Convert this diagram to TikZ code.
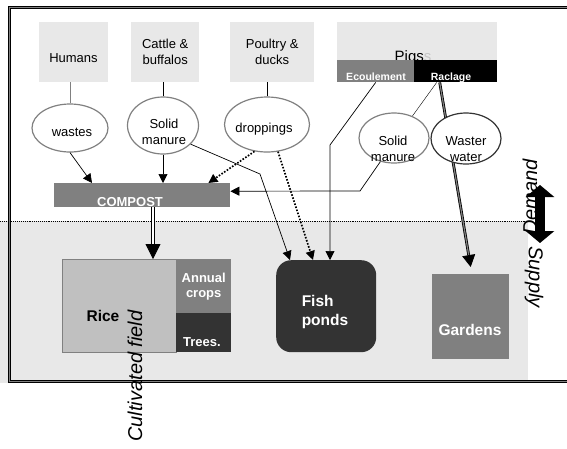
\documentclass[tikz,border=0pt]{standalone}
\usepackage{fontspec}
\setmainfont{Liberation Sans}
\usetikzlibrary{arrows.meta,calc,shapes.geometric}
\definecolor{lightbox}{HTML}{E8E8E8}
\definecolor{midbox}{HTML}{808080}
\definecolor{ricebox}{HTML}{C0C0C0}
\definecolor{darkbox}{HTML}{333333}
\newcommand{\fsmall}{\fontsize{10.5}{12}\selectfont}
\newcommand{\fnorm}{\fontsize{13}{16}\selectfont}
\newcommand{\fbig}{\fontsize{15.5}{19}\selectfont}
\newcommand{\fhuge}{\fontsize{20}{24}\selectfont}
\tikzset{
  srcbox/.style={fill=lightbox,inner sep=0pt,anchor=north west,font=\fnorm},
  heap/.style={ellipse,draw=midbox,line width=1.2pt,fill=white,inner sep=0pt},
  txt/.style={inner sep=0pt,font=\fnorm,align=center},
  wtxt/.style={inner sep=0pt,text=white,font=\bfseries\fnorm,align=center},
  arr/.style={-{Triangle[length=9pt,width=9pt]},line width=0.7pt},
  dots/.style={line width=1.7pt,dash pattern=on 1.6pt off 1.6pt},
}
\begin{document}
\begin{tikzpicture}[x=1pt,y=-1pt]
  \useasboundingbox (0,0) rectangle (567,448);
  % supply side
  \fill[lightbox] (0,221) rectangle (528,383);
  \draw[densely dotted,line width=0.9pt] (0,221) -- (526,221);
  \begin{scope}
    \clip (0,0) rectangle (567,448);
    \draw[line width=0.9pt,double=midbox,double distance=1.2pt] (9.5,7.5) rectangle (600,381.5);
  \end{scope}
  % sources
  \node[srcbox,minimum width=69pt,minimum height=60pt] (humans) at (39,22) {};
  \node[txt] (humans-t) at (73.5,58) {Humans};
  \node[srcbox,minimum width=68pt,minimum height=60pt,align=center] (cattle) at (131,22) {Cattle \&\\buffalos};
  \node[srcbox,minimum width=84pt,minimum height=60pt,align=center] (poultry) at (230,22) {Poultry \&\\ducks};
  \node[srcbox,minimum width=160pt,minimum height=38pt] (pigs) at (337,22) {};
  \node[txt,font=\fontsize{15}{18}\selectfont] (pigs-t) at (413,58) {Pigs{\color{gray!45}s}};
  \node[srcbox,fill=midbox,minimum width=77pt,minimum height=22pt] (ecoul) at (337,60) {};
  \node[srcbox,fill=black,minimum width=83pt,minimum height=22pt] (raclage) at (414,60) {};
  \node[wtxt,font=\bfseries\fsmall] (ecoul-t) at (376,77) {Ecoulement};
  \node[wtxt,font=\bfseries\fsmall] (raclage-t) at (451,78) {Raclage};
  % compost
  \node[srcbox,fill=midbox,minimum width=176pt,minimum height=24pt] (compost) at (54,183) {};
  \node[wtxt] (compost-t) at (130,202.5) {COMPOST};
  % receivers
  \node[srcbox,fill=ricebox,draw=midbox,line width=1pt,minimum width=114pt,minimum height=93pt] (rice) at (62,259) {};
  \node[srcbox,fill=midbox,minimum width=55pt,minimum height=54pt,text=white,align=center,
        font=\bfseries\fontsize{13}{15}\selectfont] (annual) at (176,259) {Annual\\crops};
  \node[srcbox,fill=darkbox,minimum width=55pt,minimum height=39pt] (trees) at (176,313) {};
  \node[txt,font=\bfseries\fbig] (rice-t) at (103,316) {Rice};
  \node[wtxt] (trees-t) at (202,342) {Trees.};
  \node[srcbox,fill=darkbox,rounded corners=15pt,minimum width=100pt,minimum height=92pt] (fish) at (276,260) {};
  \node[wtxt,font=\bfseries\fbig,align=left] (fish-t) at (325,312) {Fish\\ponds};
  \node[srcbox,fill=midbox,minimum width=77pt,minimum height=85pt] (gardens) at (432,274) {};
  \node[wtxt,font=\bfseries\fbig] (gardens-t) at (470,330) {Gardens};
  % main flows
  \draw[line width=0.8pt,double=midbox,double distance=1.2pt,-{Triangle[length=12pt,width=13pt]}]
    ([xshift=-16pt]raclage.south) -- ([yshift=7pt]gardens.north);
  \draw[line width=0.8pt,double=white,double distance=1.5pt,-{Triangle[length=15pt,width=15pt]}]
    ([xshift=99pt]compost.south west) -- ([xshift=91pt]rice.north west);
  % heaps
  \node[heap,minimum width=76pt,minimum height=48pt] (wastes) at (70,128) {};
  \node[txt] (wastes-t) at (72,132) {wastes};
  \node[heap,minimum width=71pt,minimum height=57pt] (smc) at (163,125.5) {};
  \node[txt] (smc-t) at (164,132) {Solid\\manure};
  \node[heap,minimum width=85pt,minimum height=55pt] (drop) at (267,124.5) {};
  \node[txt] (drop-t) at (264,129) {droppings};
  \node[heap,minimum width=70pt,minimum height=50pt] (smp) at (394,138) {};
  \node[txt] (smp-t) at (393,149) {Solid\\manure};
  \node[heap,draw=darkbox,minimum width=70pt,minimum height=51pt] (ww) at (466,138.5) {};
  \node[txt] (ww-t) at (466,149) {Waster\\water};
  \coordinate (bend1) at (360,191);
  \coordinate (bend2) at (260,174);
  \coordinate (bend3) at (330,145);
  \draw[midbox,line width=1pt] (wastes.north) -- (wastes.north |- humans.south);
  \draw (smc.north) -- (smc.north |- cattle.south);
  \draw (drop.north) -- (drop.north |- poultry.south);
  \draw[arr] (wastes.south) -- ([xshift=38pt]compost.north west);
  \draw[arr] (smc.south) -- (smc.south |- compost.north);
  \draw[arr,dots] (drop.245) -- ([xshift=-22pt]compost.north east);
  \draw[arr] (smp.240) -- (bend1) -- ([yshift=4pt]compost.east);
  \draw[arr] (smc.-34) -- (bend2) -- ([xshift=14pt]fish.north west);
  \draw[arr,dots] (drop.-68) -- ([xshift=37pt]fish.north west);
  \draw[arr] (ecoul.south) -- (bend3) -- (bend3 |- fish.north);
  \draw ([xshift=-19pt]raclage.south) -- (smp.50);
  % demand / supply
  \node[rotate=90,inner sep=0pt,font=\itshape\fhuge] (demand) at (530,197) {Demand};
  \coordinate (dem-top) at (540,185);
  \coordinate (dem-bot) at (540,243);
  \draw[line width=10pt,{Triangle[length=12pt,width=28pt]}-{Triangle[length=12pt,width=28pt]}] (dem-top) -- (dem-bot);
  \node[rotate=-90,inner sep=0pt,font=\itshape\fhuge] (supply) at (534,277) {Supply};
  \node[rotate=90,inner sep=0pt,font=\itshape\fhuge] (cult) at (135,376) {Cultivated field};
\end{tikzpicture}
\end{document}
